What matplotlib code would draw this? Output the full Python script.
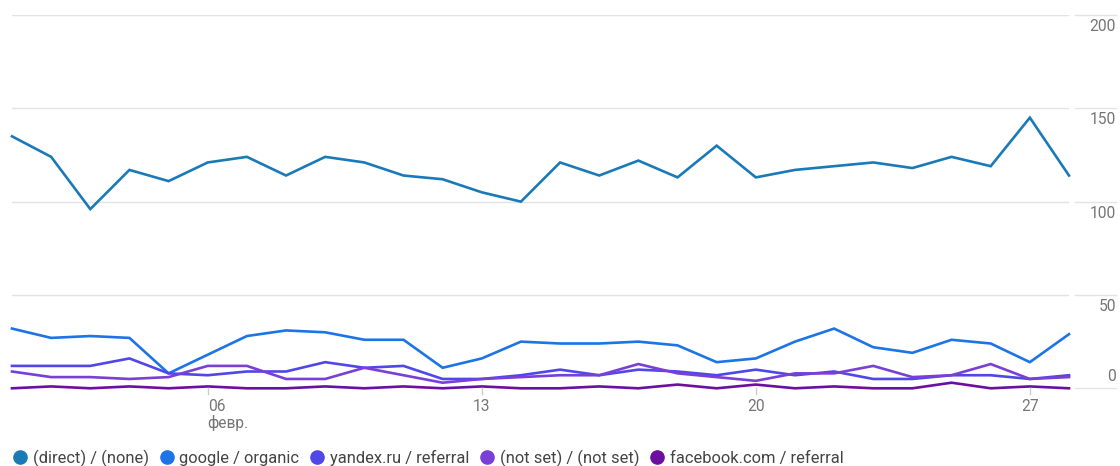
import matplotlib
matplotlib.use("Agg")
import matplotlib.pyplot as plt
from matplotlib.lines import Line2D
import matplotlib.transforms as mtransforms

plt.rcParams['font.family'] = ['Roboto', 'DejaVu Sans']

# ---------------------------------------------------------------------------
# Data: daily sessions by source / medium, 1-28 Feb
# ---------------------------------------------------------------------------
days = list(range(1, 29))

direct = [135, 124, 96, 117, 111, 121, 124, 114, 124, 121, 114, 112, 105, 100,
          121, 114, 122, 113, 130, 113, 117, 119, 121, 118, 124, 119, 145, 114]
google = [32, 27, 28, 27, 8, 18, 28, 31, 30, 26, 26, 11, 16, 25,
          24, 24, 25, 23, 14, 16, 25, 32, 22, 19, 26, 24, 14, 29]
yandex = [12, 12, 12, 16, 8, 7, 9, 9, 14, 11, 12, 5, 5, 7,
          10, 7, 10, 9, 7, 10, 7, 9, 5, 5, 7, 7, 5, 7]
not_set = [9, 6, 6, 5, 6, 12, 12, 5, 5, 11, 7, 3, 5, 6,
           7, 7, 13, 8, 6, 4, 8, 8, 12, 6, 7, 13, 5, 6]
facebook = [0, 1, 0, 1, 0, 1, 0, 0, 1, 0, 1, 0, 1, 0,
            0, 1, 0, 2, 0, 2, 0, 1, 0, 0, 3, 0, 1, 0]

series_names = ["(direct) / (none)", "google / organic", "yandex.ru / referral",
                "(not set) / (not set)", "facebook.com / referral"]
series_values = [direct, google, yandex, not_set, facebook]
colors = ["#1a7ab8", "#1c74e6", "#4f47e8", "#7a3fd6", "#6b0fa0"]

tick_days = [6, 13, 20, 27]
tick_labels = ["06\nфевр.", "13", "20", "27"]
y_ticks = [0, 50, 100, 150, 200]

# ---------------------------------------------------------------------------
# Figure
# ---------------------------------------------------------------------------
fig = plt.figure(figsize=(11.2, 4.66), dpi=100)
ax = fig.add_axes([12 / 1120, 1 - 388.3 / 466, (1069 - 12) / 1120, (388.3 - 15) / 466])

grid_col = "#e3e3e3"
label_col = "#757575"

for yv in y_ticks:
    ax.axhline(yv, color=grid_col, linewidth=1, zorder=0)

for name, vals, col in zip(series_names, series_values, colors):
    ax.plot(days, vals, color=col, linewidth=1.9, label=name, zorder=2,
            solid_joinstyle="miter", clip_on=False)

ax.set_xlim(days[0], days[-1])
ax.set_ylim(0, 200)
for s in ax.spines.values():
    s.set_visible(False)
ax.set_xticks([])
ax.set_yticks([])

# right-hand value labels with short grid stubs underneath
trans = mtransforms.blended_transform_factory(fig.transFigure, ax.transData)
for yv in y_ticks:
    ax.add_line(Line2D([1075 / 1120, 1116 / 1120], [yv, yv], transform=trans,
                       color=grid_col, linewidth=1, clip_on=False))
    va = "bottom" if yv == 0 else "top"
    off = 4 if yv == 0 else -4
    ax.annotate(str(yv), xy=(1116 / 1120, yv), xycoords=trans,
                xytext=(0, off), textcoords="offset pixels",
                ha="right", va=va, fontsize=11.2, color=label_col)

# x tick marks and labels
xtrans = mtransforms.blended_transform_factory(ax.transData, ax.transAxes)
for d, lab in zip(tick_days, tick_labels):
    ax.add_line(Line2D([d, d], [0, -0.016], transform=xtrans, color="#cccccc",
                       linewidth=1, clip_on=False))
    ha = "left" if "\n" in lab else "center"
    ax.annotate(lab, xy=(d, 0), xycoords=xtrans, xytext=(0, -11),
                textcoords="offset pixels", ha=ha, va="top",
                fontsize=11.2, color=label_col, linespacing=1.05)

handles = [Line2D([], [], linestyle="none", marker="o", markersize=9.5,
                  markerfacecolor=c, markeredgecolor=c) for c in colors]
fig.legend(handles, series_names, loc="lower left", bbox_to_anchor=(-0.004, -0.034),
           ncol=5, frameon=False, fontsize=11.9, handletextpad=0.15,
           columnspacing=0.5, handlelength=1.2, labelcolor="#444444")

fig.savefig("out.png", dpi=100)
